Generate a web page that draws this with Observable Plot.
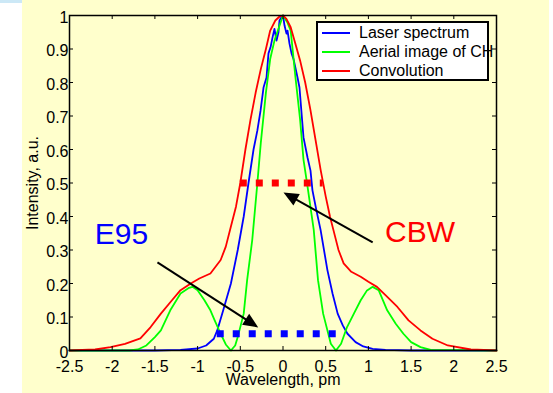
<!DOCTYPE html>
<html><head><meta charset="utf-8">
<script src="https://cdn.jsdelivr.net/npm/d3@7"></script>
<script src="https://cdn.jsdelivr.net/npm/@observablehq/plot@0.6"></script>
<style>
body{margin:0;background:#fff;}
#wrap{position:relative;width:553px;height:393px;overflow:hidden;font-family:"Liberation Sans",Arial,sans-serif;}
#bg{position:absolute;left:22px;top:0;width:527px;height:393px;background:#FFFFCC;}
#strip{position:absolute;left:0;top:0;width:22px;height:3px;background:#CCE8F6;}
#chart{position:absolute;left:0;top:0;}
#legend{position:absolute;left:316px;top:21px;width:173px;height:60px;background:#fff;border:2px solid #000;box-sizing:border-box;overflow:visible;}
.row{position:absolute;left:0;height:18px;width:200px;}
.swatch{position:absolute;left:4px;top:8px;width:28px;height:2px;}
.lab{position:absolute;left:41px;top:0;line-height:18px;font-size:16px;white-space:nowrap;color:#000;}
</style>
</head><body>
<div id="wrap"><div id="bg"></div><div id="strip"></div><div id="chart"></div><div id="legend"></div></div>
<script>
// ---- data ----
const xTicks = [-2.5, -2, -1.5, -1, -0.5, 0, 0.5, 1, 1.5, 2, 2.5];
const yTicks = [0, 0.1, 0.2, 0.3, 0.4, 0.5, 0.6, 0.7, 0.8, 0.9, 1];

const seriesNames = ["Laser spectrum", "Aerial image of CH", "Convolution"];
const seriesColors = ["#0000FF", "#00FF00", "#FF0000"];

const laserX = [-2.5, -1.5, -1.2, -1.0, -0.9, -0.81, -0.77, -0.7, -0.61, -0.53, -0.46, -0.404, -0.345, -0.3, -0.263, -0.228, -0.193, -0.17, -0.146, -0.123, -0.1, -0.076, -0.053, -0.041, -0.018, 0, 0.018, 0.041, 0.053, 0.076, 0.1, 0.123, 0.17, 0.193, 0.24, 0.287, 0.322, 0.345, 0.39, 0.44, 0.52, 0.58, 0.64, 0.7, 0.755, 0.85, 0.94, 1.05, 1.2, 1.5, 2.5];
const laserY = [0, 0, 0.002, 0.006, 0.015, 0.035, 0.06, 0.12, 0.2, 0.3, 0.4, 0.5, 0.6, 0.657, 0.716, 0.785, 0.815, 0.887, 0.905, 0.934, 0.96, 0.925, 0.95, 0.985, 0.995, 1.0, 0.97, 0.946, 0.955, 0.916, 0.887, 0.87, 0.815, 0.785, 0.636, 0.576, 0.537, 0.478, 0.42, 0.36, 0.24, 0.17, 0.11, 0.075, 0.05, 0.025, 0.012, 0.005, 0.002, 0, 0];

const aerialX = [-2.5, -1.8, -1.7, -1.6, -1.5, -1.43, -1.32, -1.2, -1.1, -1.06, -1.0, -0.92, -0.85, -0.8, -0.73, -0.67, -0.61, -0.56, -0.53, -0.46, -0.42, -0.36, -0.3, -0.26, -0.2, -0.15, -0.1, -0.06, 0, 0.05, 0.09, 0.146, 0.2, 0.24, 0.287, 0.36, 0.41, 0.47, 0.56, 0.62, 0.68, 0.75, 0.83, 0.91, 0.98, 1.05, 1.12, 1.22, 1.32, 1.41, 1.5, 1.61, 1.73, 2.5];
const aerialY = [0, 0, 0.003, 0.015, 0.04, 0.06, 0.12, 0.17, 0.187, 0.19, 0.18, 0.15, 0.12, 0.09, 0.05, 0.018, 0.0, 0.015, 0.04, 0.11, 0.21, 0.33, 0.5, 0.62, 0.77, 0.87, 0.925, 0.955, 1.0, 0.98, 0.955, 0.815, 0.69, 0.57, 0.49, 0.36, 0.21, 0.11, 0.02, 0.0, 0.02, 0.07, 0.11, 0.15, 0.178, 0.19, 0.18, 0.12, 0.08, 0.05, 0.025, 0.01, 0.002, 0];

const convX = [-2.5, -2.2, -2.02, -1.85, -1.67, -1.55, -1.43, -1.3, -1.2, -1.08, -0.98, -0.85, -0.73, -0.67, -0.61, -0.55, -0.5, -0.44, -0.38, -0.32, -0.26, -0.2, -0.15, -0.09, -0.04, 0, 0.04, 0.09, 0.14, 0.2, 0.26, 0.32, 0.38, 0.44, 0.5, 0.55, 0.59, 0.65, 0.71, 0.8, 0.91, 1.0, 1.1, 1.2, 1.34, 1.47, 1.61, 1.75, 1.93, 2.2, 2.5];
const convY = [0, 0.003, 0.01, 0.02, 0.036, 0.07, 0.11, 0.15, 0.18, 0.2, 0.215, 0.23, 0.27, 0.31, 0.37, 0.43, 0.5, 0.6, 0.69, 0.77, 0.84, 0.9, 0.955, 0.985, 0.997, 1.0, 0.99, 0.965, 0.92, 0.866, 0.8, 0.72, 0.63, 0.54, 0.46, 0.4, 0.36, 0.3, 0.26, 0.235, 0.22, 0.205, 0.19, 0.165, 0.13, 0.09, 0.06, 0.035, 0.015, 0.003, 0];

// width markers (dotted levels)
const levelNames = ["CBW", "E95"];
const levelY = [0.5, 0.05];
const levelX1 = [-0.5, -0.77];
const levelX2 = [0.47, 0.64];

// annotations
const noteText = ["E95", "CBW"];
const noteX = [-2.204, 1.194];
const noteY = [0.348, 0.354];
const arrowStartX = [-1.47, 1.05];
const arrowStartY = [0.263, 0.323];
const arrowEndX = [-0.29, 0.006];
const arrowEndY = [0.069, 0.472];

// ---- chart ----
const W = 553, H = 393, mL = 69, mR = 57, mT = 15, mB = 43;
const plotW = W - mL - mR, plotH = H - mT - mB;
const kx = plotW / 5, ky = plotH / 1;

const toPts = (xs, ys) => xs.map((x, i) => ({x, y: ys[i]}));
const laser = toPts(laserX, laserY);
const aerial = toPts(aerialX, aerialY);
const conv = toPts(convX, convY);

const levels = levelNames.map((n, i) => ({n, y: levelY[i], x1: levelX1[i], x2: levelX2[i], c: n === "CBW" ? seriesColors[2] : seriesColors[0]}));
const notes = noteText.map((t, i) => ({t, x: noteX[i], y: noteY[i], c: t === "CBW" ? seriesColors[2] : seriesColors[0]}));
const arrows = arrowStartX.map((x1, i) => {
  const y1 = arrowStartY[i], x2 = arrowEndX[i], y2 = arrowEndY[i];
  const sx = (x2 - x1) * kx, sy = -(y2 - y1) * ky;
  const len = Math.hypot(sx, sy);
  const ux = sx / len, uy = sy / len;
  const back = 6;
  return {x1, y1, x2, y2,
    lx2: x2 - back * ux / kx, ly2: y2 + back * uy / ky,
    angle: Math.atan2(ux, -uy) * 180 / Math.PI};
});
const headSymbol = {draw(ctx) { ctx.moveTo(0, 0); ctx.lineTo(6.5, 15); ctx.lineTo(-6.5, 15); ctx.closePath(); }};

const chart = Plot.plot({
  width: W, height: H, marginLeft: mL, marginRight: mR, marginTop: mT, marginBottom: mB,
  style: {background: "transparent", fontFamily: "'Liberation Sans', Arial, sans-serif", fontSize: "16px", color: "#000", overflow: "visible"},
  x: {domain: [-2.5, 2.5]},
  y: {domain: [0, 1]},
  marks: [
    Plot.line(laser, {x: "x", y: "y", stroke: seriesColors[0], strokeWidth: 1.8}),
    Plot.line(aerial, {x: "x", y: "y", stroke: seriesColors[1], strokeWidth: 1.8}),
    Plot.line(conv, {x: "x", y: "y", stroke: seriesColors[2], strokeWidth: 1.8}),
    Plot.ruleY(levels, {y: "y", x1: "x1", x2: "x2", stroke: "c", strokeWidth: 7, strokeDasharray: "7 9"}),
    Plot.link(arrows, {x1: "x1", y1: "y1", x2: "lx2", y2: "ly2", stroke: "#000", strokeWidth: 2}),
    Plot.dot(arrows, {x: "x2", y: "y2", symbol: headSymbol, rotate: "angle", fill: "#000", stroke: null, r: 5}),
    Plot.text(notes, {x: "x", y: "y", text: "t", fill: "c", fontSize: 30, textAnchor: "start"}),
    Plot.frame({stroke: "#000", strokeWidth: 1.5}),
    Plot.tickX(xTicks, {x: d => d, insetTop: plotH - 4, stroke: "#000"}),
    Plot.tickX(xTicks, {x: d => d, insetBottom: plotH - 4, stroke: "#000"}),
    Plot.tickY(yTicks, {y: d => d, insetRight: plotW - 4, stroke: "#000"}),
    Plot.tickY(yTicks, {y: d => d, insetLeft: plotW - 4, stroke: "#000"}),
    Plot.axisX(xTicks, {anchor: "bottom", tickSize: 0, tickPadding: 10, tickFormat: d => String(d), label: "Wavelength, pm", labelAnchor: "center", labelOffset: 34, labelArrow: "none", fill: "#000"}),
    Plot.axisY(yTicks, {anchor: "left", tickSize: 0, tickPadding: 1, dy: 2, tickFormat: d => String(d), label: "Intensity, a.u.", labelAnchor: "center", labelOffset: 43, labelArrow: "none", fill: "#000"})
  ]
});
document.getElementById("chart").appendChild(chart);

// legend
const legend = document.getElementById("legend");
seriesNames.forEach((name, i) => {
  const row = document.createElement("div");
  row.className = "row";
  row.style.top = (1 + i * 19) + "px";
  const sw = document.createElement("span");
  sw.className = "swatch";
  sw.style.background = seriesColors[i];
  const lab = document.createElement("span");
  lab.className = "lab";
  lab.textContent = name;
  row.appendChild(sw); row.appendChild(lab);
  legend.appendChild(row);
});
</script>
</body></html>
